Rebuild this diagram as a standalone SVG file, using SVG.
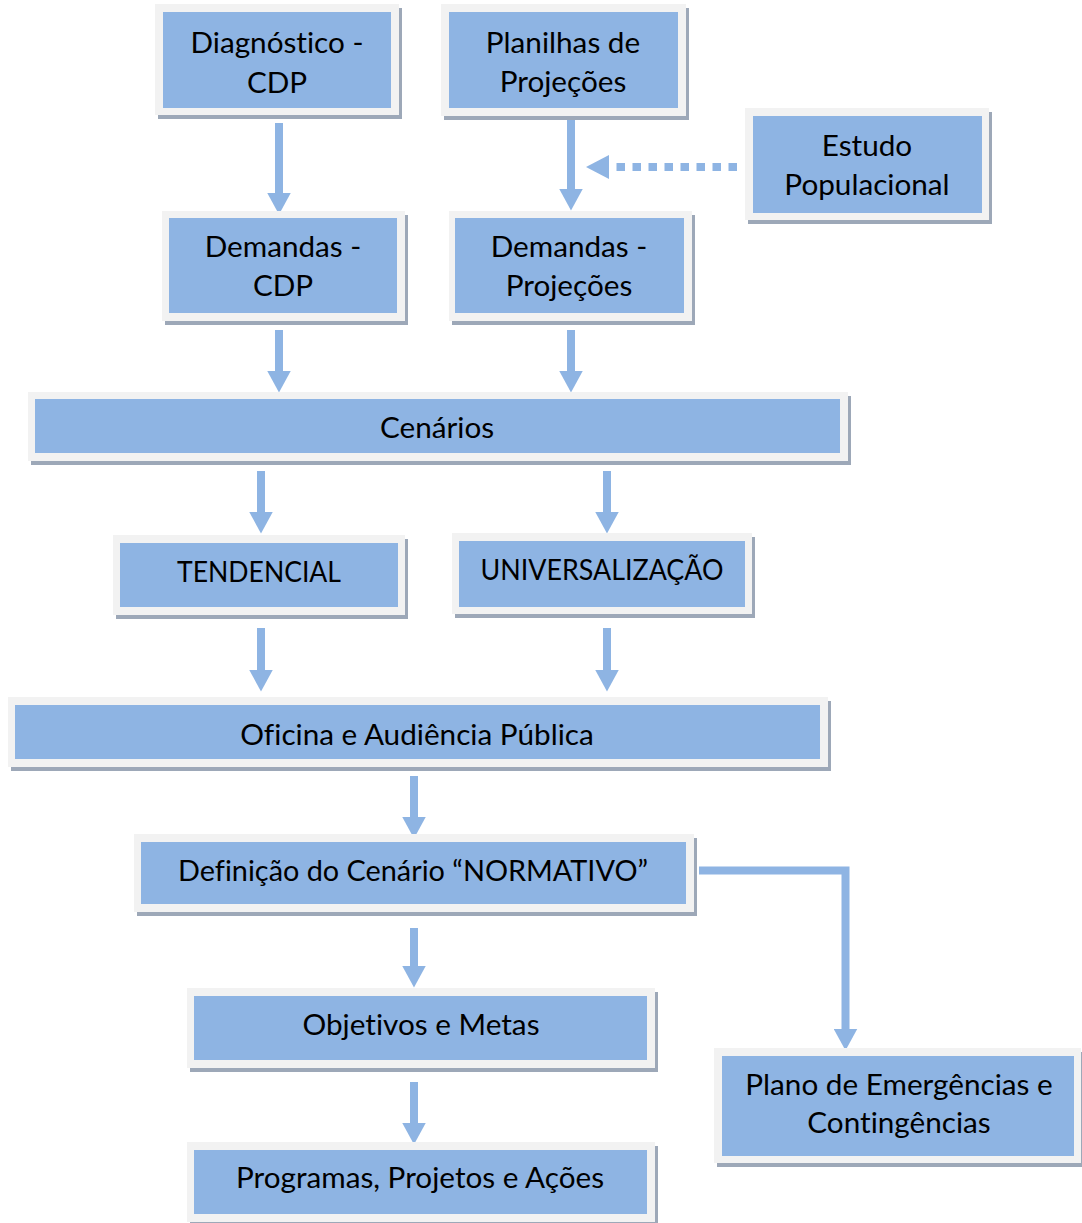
<svg xmlns="http://www.w3.org/2000/svg" width="1082" height="1223" viewBox="0 0 1082 1223">
<defs>
<style>
.sh{fill:#9DA8B8}
.fr{fill:#F2F2F2}
.bx{fill:#8EB4E3}
.t{font-family:Lato,"Open Sans","Liberation Sans",sans-serif;font-size:29.7px;fill:#000;text-anchor:middle;font-variant-ligatures:none;font-feature-settings:"liga" 0,"dlig" 0}
.ar{stroke:#8EB4E3;stroke-width:8;fill:none}
.hd{fill:#8EB4E3}
</style>
<marker id="ah" markerUnits="userSpaceOnUse" markerWidth="22" markerHeight="24" refX="0.5" refY="12" orient="auto" viewBox="0 0 22 24">
<path d="M0,0 L22,12 L0,24 Z" fill="#8EB4E3"/>
</marker>
</defs>
<rect width="1082" height="1223" fill="#fff"/>

<g id="connectors">
<line class="ar" x1="279" y1="123" x2="279" y2="193" marker-end="url(#ah)"/>
<line class="ar" x1="571" y1="120" x2="571" y2="189" marker-end="url(#ah)"/>
<line class="ar" x1="737" y1="167" x2="616" y2="167" stroke-dasharray="8.5 7.5"/>
<polygon class="hd" points="586,167 609,155 609,179"/>
<line class="ar" x1="279" y1="330" x2="279" y2="371" marker-end="url(#ah)"/>
<line class="ar" x1="571" y1="330" x2="571" y2="371" marker-end="url(#ah)"/>
<line class="ar" x1="261" y1="471" x2="261" y2="512" marker-end="url(#ah)"/>
<line class="ar" x1="607" y1="471" x2="607" y2="512" marker-end="url(#ah)"/>
<line class="ar" x1="261" y1="628" x2="261" y2="670" marker-end="url(#ah)"/>
<line class="ar" x1="607" y1="628" x2="607" y2="670" marker-end="url(#ah)"/>
<line class="ar" x1="414" y1="776" x2="414" y2="817" marker-end="url(#ah)"/>
<line class="ar" x1="414" y1="928" x2="414" y2="966" marker-end="url(#ah)"/>
<line class="ar" x1="414" y1="1082" x2="414" y2="1123" marker-end="url(#ah)"/>
<path class="ar" d="M699,870.5 H845.5 V1029" marker-end="url(#ah)"/>
</g>

<g id="diagnostico">
<rect class="sh" x="158" y="8" width="244" height="111"/>
<rect class="fr" x="155" y="4" width="244" height="111"/>
<rect class="bx" x="163" y="12" width="228" height="96"/>
<text class="t" x="277" y="53">Diagnóstico -</text>
<text class="t" x="277" y="93">CDP</text>
</g>

<g id="planilhas">
<rect class="sh" x="444" y="8" width="245" height="112"/>
<rect class="fr" x="441" y="4" width="245" height="112"/>
<rect class="bx" x="449" y="12" width="229" height="96"/>
<text class="t" x="563" y="53">Planilhas de</text>
<text class="t" x="563" y="92">Projeções</text>
</g>

<g id="estudo">
<rect class="sh" x="748" y="112" width="244" height="112"/>
<rect class="fr" x="745" y="108" width="244" height="112"/>
<rect class="bx" x="753" y="116" width="229" height="97"/>
<text class="t" x="867" y="156">Estudo</text>
<text class="t" x="867" y="195">Populacional</text>
</g>

<g id="demandas-cdp">
<rect class="sh" x="165" y="215" width="243" height="110"/>
<rect class="fr" x="162" y="211" width="243" height="110"/>
<rect class="bx" x="169" y="218" width="228" height="95"/>
<text class="t" x="283" y="257">Demandas -</text>
<text class="t" x="283" y="296">CDP</text>
</g>

<g id="demandas-projecoes">
<rect class="sh" x="452" y="215" width="243" height="110"/>
<rect class="fr" x="449" y="211" width="243" height="110"/>
<rect class="bx" x="455" y="218" width="229" height="95"/>
<text class="t" x="569" y="257">Demandas -</text>
<text class="t" x="569" y="296">Projeções</text>
</g>

<g id="cenarios">
<rect class="sh" x="31" y="396" width="820" height="69"/>
<rect class="fr" x="28" y="392" width="820" height="69"/>
<rect class="bx" x="35" y="399" width="805" height="54"/>
<text class="t" x="437" y="438">Cenários</text>
</g>

<g id="tendencial">
<rect class="sh" x="116" y="539" width="292" height="80"/>
<rect class="fr" x="113" y="535" width="292" height="80"/>
<rect class="bx" x="120" y="543" width="278" height="64"/>
<text class="t" x="259" y="582" textLength="164" lengthAdjust="spacingAndGlyphs">TENDENCIAL</text>
</g>

<g id="universalizacao">
<rect class="sh" x="455" y="537" width="300" height="81"/>
<rect class="fr" x="452" y="533" width="300" height="81"/>
<rect class="bx" x="459" y="541" width="286" height="66"/>
<text class="t" x="602" y="580" textLength="243" lengthAdjust="spacingAndGlyphs">UNIVERSALIZAÇÃO</text>
</g>

<g id="oficina">
<rect class="sh" x="11" y="701" width="820" height="70"/>
<rect class="fr" x="8" y="697" width="820" height="70"/>
<rect class="bx" x="15" y="705" width="805" height="54"/>
<text class="t" x="417" y="745">Oficina e Audiência Pública</text>
</g>

<g id="definicao">
<rect class="sh" x="137" y="838" width="560" height="78"/>
<rect class="fr" x="134" y="834" width="560" height="78"/>
<rect class="bx" x="141" y="842" width="545" height="62"/>
<text class="t" x="413" y="881" textLength="470" lengthAdjust="spacingAndGlyphs">Definição do Cenário “NORMATIVO”</text>
</g>

<g id="objetivos">
<rect class="sh" x="190" y="992" width="468" height="80"/>
<rect class="fr" x="187" y="988" width="468" height="80"/>
<rect class="bx" x="194" y="996" width="453" height="64"/>
<text class="t" x="421" y="1035">Objetivos e Metas</text>
</g>

<g id="programas">
<rect class="sh" x="190" y="1146" width="468" height="80"/>
<rect class="fr" x="187" y="1142" width="468" height="80"/>
<rect class="bx" x="194" y="1150" width="453" height="64"/>
<text class="t" x="420" y="1188">Programas, Projetos e Ações</text>
</g>

<g id="plano">
<rect class="sh" x="717" y="1052" width="367" height="115"/>
<rect class="fr" x="714" y="1048" width="367" height="115"/>
<rect class="bx" x="722" y="1056" width="352" height="100"/>
<text class="t" x="899" y="1095">Plano de Emergências e</text>
<text class="t" x="899" y="1133">Contingências</text>
</g>
</svg>
